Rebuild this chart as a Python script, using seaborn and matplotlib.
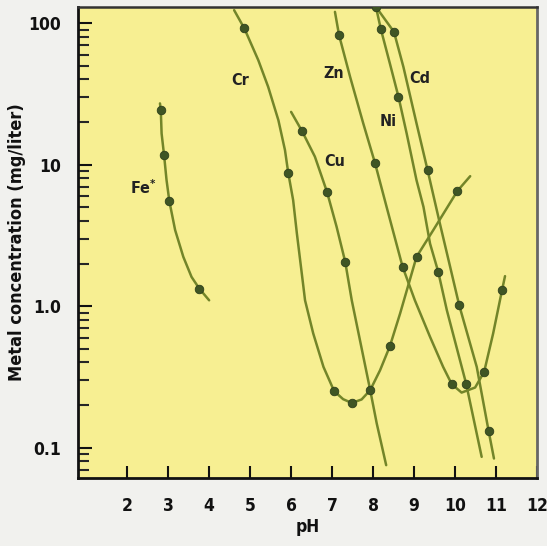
import numpy as np
import pandas as pd
import matplotlib
matplotlib.use('Agg')
import matplotlib.pyplot as plt
import seaborn as sns
from matplotlib import font_manager
from matplotlib.ticker import FixedLocator, FixedFormatter, LogLocator, NullFormatter

# values (pH vs metal concentration, mg/liter)
fe_ph_line = [2.80, 2.82, 2.84, 2.90, 2.96, 3.03, 3.17, 3.37, 3.57, 3.76, 4.00]
fe_conc_line = [27.1, 24.3, 16.6, 11.7, 7.8, 5.5, 3.45, 2.23, 1.61, 1.33, 1.10]
fe_ph_pts = [2.82, 2.90, 3.03, 3.76]
fe_conc_pts = [24.3, 11.7, 5.5, 1.33]

cr_ph_line = [4.61, 4.86, 5.20, 5.44, 5.69, 5.85, 5.93, 6.05, 6.14, 6.29, 6.34, 6.54, 6.79,
              7.05, 7.27, 7.48, 7.72, 7.93, 8.17, 8.41, 8.66, 9.06, 9.47, 10.06, 10.37]
cr_conc_line = [123.5, 91.7, 54.7, 35.5, 20.6, 12.7, 8.75, 5.61, 3.28, 1.45, 1.10, 0.641, 0.372,
                0.251, 0.220, 0.207, 0.219, 0.255, 0.352, 0.521, 0.888, 2.23, 3.45, 6.53, 8.29]
cr_ph_pts = [4.86, 5.93, 7.05, 7.48, 8.41, 9.06, 10.06]
cr_conc_pts = [91.7, 8.75, 0.251, 0.207, 0.521, 2.23, 6.53]

cu_ph_line = [6.00, 6.27, 6.58, 6.75, 6.88, 7.11, 7.32, 7.48, 7.68, 7.93, 8.09, 8.32]
cu_conc_line = [23.6, 17.2, 11.4, 8.20, 6.36, 3.64, 2.06, 1.10, 0.575, 0.255, 0.148, 0.0752]
cu_ph_pts = [6.27, 6.88, 7.32, 7.93]
cu_conc_pts = [17.2, 6.36, 2.06, 0.255]

zn_ph_line = [7.07, 7.17, 7.44, 7.76, 8.05, 8.33, 8.72, 9.02, 9.39, 9.71, 9.92, 10.16,
              10.49, 10.71, 10.93, 11.15, 11.22]
zn_conc_line = [120.2, 82.3, 41.7, 19.6, 10.2, 5.03, 1.90, 1.10, 0.607, 0.372, 0.281, 0.245,
                0.266, 0.343, 0.641, 1.31, 1.63]
zn_ph_pts = [7.17, 8.05, 8.72, 9.92, 10.71, 11.15]
zn_conc_pts = [82.3, 10.2, 1.90, 0.281, 0.343, 1.31]

ni_ph_line = [8.07, 8.19, 8.41, 8.62, 8.82, 9.06, 9.23, 9.39, 9.59, 9.80, 10.27, 10.65]
ni_conc_line = [130.3, 90.7, 51.9, 30.2, 16.6, 7.77, 5.03, 2.77, 1.75, 0.937, 0.284, 0.0861]
ni_ph_pts = [8.07, 8.19, 8.62, 9.59, 10.27]
ni_conc_pts = [130.3, 90.7, 30.2, 1.75, 0.284]

cd_ph_line = [8.07, 8.51, 8.74, 9.06, 9.33, 9.63, 9.88, 10.10, 10.53, 10.82, 10.95]
cd_conc_line = [130.3, 86.8, 49.1, 19.6, 9.15, 3.84, 1.90, 1.02, 0.372, 0.131, 0.0838]
cd_ph_pts = [8.51, 9.33, 10.10, 10.82]
cd_conc_pts = [86.8, 9.15, 1.02, 0.131]

metal_names = ['Fe$^{*}$', 'Cr', 'Cu', 'Zn', 'Ni', 'Cd']
label_ph = [2.39, 4.75, 7.07, 7.03, 8.37, 9.15]
label_conc = [6.93, 39.6, 10.5, 44.1, 20.1, 40.7]

y_ticks = [0.1, 1.0, 10, 100]
y_ticklabels = ['0.1', '1.0', '10', '100']
x_ticks = [2, 3, 4, 5, 6, 7, 8, 9, 10, 11, 12]

sns.set_style('ticks')
names = {f.name for f in font_manager.fontManager.ttflist}
fam = 'Liberation Sans Narrow' if 'Liberation Sans Narrow' in names else 'DejaVu Sans'
plt.rcParams['font.family'] = [fam, 'DejaVu Sans']
plt.rcParams['font.stretch'] = 'condensed'
plt.rcParams['font.weight'] = 'bold'

line_col = '#738529'
mark_col = '#3f5524'

fig = plt.figure(figsize=(5.47, 5.46), dpi=100, facecolor='#f1f1ee')
ax = fig.add_axes([0.1426, 0.1245, 0.8391, 0.8626])
ax.set_facecolor('#f7ef92')
ax.set_yscale('log')

series = [
    (fe_ph_line, fe_conc_line, fe_ph_pts, fe_conc_pts),
    (cr_ph_line, cr_conc_line, cr_ph_pts, cr_conc_pts),
    (cu_ph_line, cu_conc_line, cu_ph_pts, cu_conc_pts),
    (zn_ph_line, zn_conc_line, zn_ph_pts, zn_conc_pts),
    (ni_ph_line, ni_conc_line, ni_ph_pts, ni_conc_pts),
    (cd_ph_line, cd_conc_line, cd_ph_pts, cd_conc_pts),
]
for ph_l, c_l, ph_p, c_p in series:
    sns.lineplot(x=ph_l, y=c_l, sort=False, estimator=None, ax=ax,
                 color=line_col, lw=1.8, zorder=2, solid_joinstyle='round')
    sns.scatterplot(x=ph_p, y=c_p, ax=ax, color=mark_col, s=38,
                    edgecolor='#2f401c', linewidth=0.6, zorder=3)

for name, px, cy in zip(metal_names, label_ph, label_conc):
    ax.text(px, cy, name, fontsize=11.5, color='#222222', ha='center', va='center')

ax.set_xlim(0.8, 12.0)
ax.set_ylim(0.061, 130)

ax.set_xticks(x_ticks)
ax.set_xticklabels([str(v) for v in x_ticks])
ax.yaxis.set_major_locator(FixedLocator(y_ticks))
ax.yaxis.set_major_formatter(FixedFormatter(y_ticklabels))
ax.yaxis.set_minor_locator(LogLocator(base=10, subs=np.arange(2, 10)))
ax.yaxis.set_minor_formatter(NullFormatter())

ax.tick_params(axis='x', direction='in', length=9, width=1.5, pad=14,
               labelsize=12.5, colors='#111111')
ax.tick_params(axis='y', which='major', direction='in', length=10, width=1.5, pad=12,
               labelsize=12.5, colors='#111111')
ax.tick_params(axis='y', which='minor', direction='in', length=8, width=1.5)

for side in ['left', 'bottom']:
    ax.spines[side].set_linewidth(2)
    ax.spines[side].set_color('#111111')
ax.spines['top'].set_linewidth(1.8)
ax.spines['top'].set_color('#333333')
ax.spines['right'].set_linewidth(2)
ax.spines['right'].set_color('#666666')

ax.set_xlabel('pH', fontsize=12.5, fontweight='bold', labelpad=2, color='#111111')
ax.set_ylabel('Metal concentration (mg/liter)', fontsize=13, fontweight='bold',
              labelpad=2, color='#111111')

plt.savefig('out.png', dpi=100, facecolor=fig.get_facecolor())
